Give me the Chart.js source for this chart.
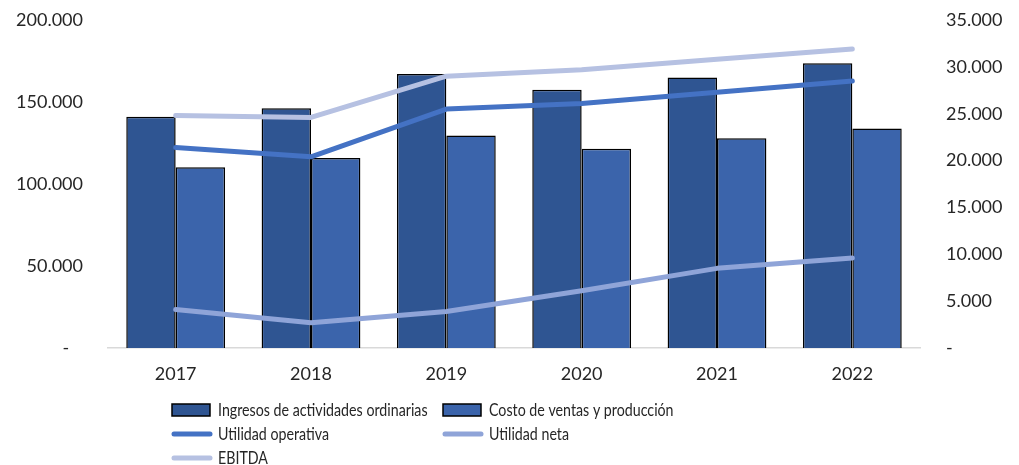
<!DOCTYPE html>
<html>
<head>
<meta charset="utf-8">
<script src="https://cdn.jsdelivr.net/npm/chart.js@4/dist/chart.umd.min.js"></script>
<style>
  html, body { margin: 0; padding: 0; background: #fff; }
  #wrap { width: 1019px; height: 465px; position: relative; }
</style>
</head>
<body>
<div id="wrap"><canvas id="chart" width="1019" height="465"></canvas></div>
<script>
const years = ["2017", "2018", "2019", "2020", "2021", "2022"];
const ingresos = [141000, 146200, 167100, 157500, 165000, 173600];
const costoVentas = [110200, 115900, 129500, 121500, 127900, 133900];
const utilidadOperativa = [21400, 20400, 25500, 26100, 27300, 28500];
const utilidadNeta = [4100, 2700, 3900, 6100, 8500, 9600];
const ebitda = [24800, 24600, 29000, 29700, 30800, 31900];

const FONT = "Lato, 'Open Sans', sans-serif";
const TEXT = "#262626";

function fmt(v) {
  if (v === 0) return "-   ";
  return v.toLocaleString("de-DE");
}

// legend laid out in two columns like the original
const legendPlugin = {
  id: "colLegend",
  afterDraw(chart) {
    const ctx = chart.ctx;
    const ds = chart.data.datasets;
    const cols = [172, 443];
    const rows = [410, 434, 458];
    ctx.save();
    ctx.font = "18px " + FONT;
    ctx.textBaseline = "middle";
    ds.forEach((d, i) => {
      const x = cols[i % 2];
      const y = rows[Math.floor(i / 2)];
      if (d.type === "bar") {
        ctx.fillStyle = d.backgroundColor;
        ctx.fillRect(x, y - 6, 38, 12);
        ctx.strokeStyle = "#000";
        ctx.lineWidth = 1.5;
        ctx.strokeRect(x, y - 6, 38, 12);
      } else {
        ctx.strokeStyle = d.borderColor;
        ctx.lineWidth = 5;
        ctx.lineCap = "round";
        ctx.beginPath();
        ctx.moveTo(x + 2, y);
        ctx.lineTo(x + 38, y);
        ctx.stroke();
      }
      ctx.fillStyle = TEXT;
      // squeeze a little so it reads like the narrower original face
      const w = ctx.measureText(d.label).width * 0.79;
      ctx.fillText(d.label, x + 46, y, w);
    });
    ctx.restore();
  }
};

const lineBase = {
  type: "line",
  yAxisID: "y1",
  borderWidth: 5,
  pointRadius: 0,
  pointHoverRadius: 0,
  tension: 0,
  borderCapStyle: "round",
  borderJoinStyle: "round",
  fill: false,
  order: 0
};

function fixY(w) {
  return (s) => {
    s.width = w;
    s.paddingTop = 0;
    s.paddingBottom = 0;
  };
}

new Chart(document.getElementById("chart"), {
  data: {
    labels: years,
    datasets: [
      {
        type: "bar",
        label: "Ingresos de actividades ordinarias",
        data: ingresos,
        backgroundColor: "#2f5592",
        borderColor: "#000",
        borderWidth: 1.5,
        yAxisID: "y",
        order: 1
      },
      {
        type: "bar",
        label: "Costo de ventas y producción",
        data: costoVentas,
        backgroundColor: "#3b64ab",
        borderColor: "#000",
        borderWidth: 1.5,
        yAxisID: "y",
        order: 1
      },
      { ...lineBase, label: "Utilidad operativa", data: utilidadOperativa, borderColor: "#4472c4" },
      { ...lineBase, label: "Utilidad neta", data: utilidadNeta, borderColor: "#8fa4d8" },
      { ...lineBase, label: "EBITDA", data: ebitda, borderColor: "#b6c1e2" }
    ]
  },
  options: {
    responsive: false,
    animation: false,
    events: [],
    layout: { padding: { top: 20, left: 0, right: 0, bottom: 0 } },
    datasets: {
      bar: { categoryPercentage: 0.73, barPercentage: 1 }
    },
    plugins: {
      legend: { display: false },
      tooltip: { enabled: false }
    },
    scales: {
      x: {
        grid: { display: false, drawTicks: false },
        border: { display: true, color: "#d9d9d9", width: 1.5 },
        ticks: { color: TEXT, font: { family: FONT, size: 18 }, padding: 15 },
        afterFit: (s) => { s.height = 117; }
      },
      y: {
        position: "left",
        min: 0,
        max: 200000,
        grid: { display: false, drawTicks: false },
        border: { display: false },
        ticks: {
          stepSize: 50000,
          color: TEXT,
          font: { family: FONT, size: 18 },
          padding: 25,
          callback: (v) => fmt(v)
        },
        afterFit: fixY(108)
      },
      y1: {
        position: "right",
        min: 0,
        max: 35000,
        grid: { display: false, drawTicks: false },
        border: { display: false },
        ticks: {
          stepSize: 5000,
          color: TEXT,
          font: { family: FONT, size: 18 },
          padding: 26,
          callback: (v) => v === 0 ? "-" : v.toLocaleString("de-DE")
        },
        afterFit: fixY(99)
      }
    }
  },
  plugins: [legendPlugin]
});
</script>
</body>
</html>
